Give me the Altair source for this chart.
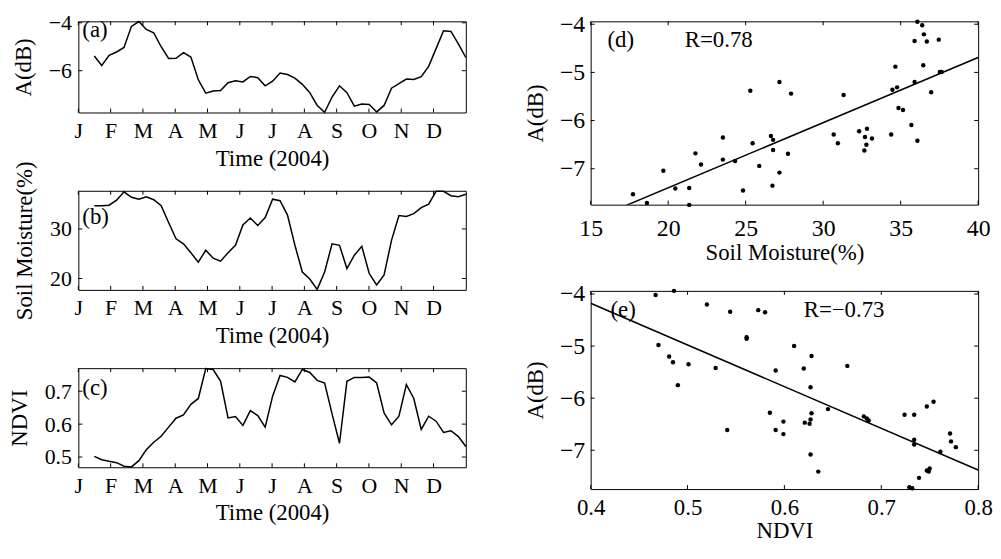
import altair as alt
import pandas as pd

# ---------------- data ----------------
days = [16, 23, 30, 37, 44, 51, 58, 65, 72, 79, 86, 93, 100, 107, 114, 121, 128,
        135, 142, 149, 156, 163, 170, 177, 184, 191, 198, 205, 212, 219, 226, 233,
        240, 247, 254, 261, 268, 275, 282, 289, 296, 303, 310, 317, 324, 331, 338,
        345, 352, 359, 366]

backscatter = [-5.39, -5.78, -5.36, -5.22, -5.03, -4.15, -3.95, -4.28, -4.42, -5.00,
               -5.49, -5.48, -5.25, -5.43, -6.38, -6.94, -6.85, -6.83, -6.50, -6.42,
               -6.47, -6.24, -6.29, -6.63, -6.44, -6.10, -6.16, -6.31, -6.57, -6.92,
               -7.45, -7.74, -7.10, -6.63, -6.92, -7.48, -7.39, -7.41, -7.72, -7.45,
               -6.73, -6.54, -6.35, -6.37, -6.25, -5.82, -5.08, -4.33, -4.36, -4.88,
               -5.45]

soil_moisture = [34.7, 34.7, 34.8, 35.8, 37.5, 36.4, 36.0, 36.5, 35.9, 34.7,
                 31.3, 28.0, 27.0, 25.2, 23.3, 25.7, 24.1, 23.5, 25.2, 26.7,
                 30.8, 32.2, 30.7, 32.3, 36.0, 35.7, 32.8, 26.7, 21.3, 19.9,
                 17.8, 21.3, 27.0, 26.7, 22.0, 24.7, 26.5, 21.0, 18.7, 20.7,
                 27.7, 32.7, 32.5, 33.1, 34.3, 35.0, 37.6, 37.6, 36.7, 36.5, 37.0]

ndvi = [0.502, 0.492, 0.487, 0.483, 0.472, 0.470, 0.489, 0.522, 0.545, 0.563,
        0.591, 0.618, 0.628, 0.660, 0.678, 0.769, 0.766, 0.730, 0.619, 0.623,
        0.596, 0.641, 0.626, 0.591, 0.685, 0.748, 0.742, 0.728, 0.766, 0.757,
        0.733, 0.725, 0.631, 0.542, 0.730, 0.742, 0.742, 0.743, 0.725, 0.634,
        0.598, 0.624, 0.720, 0.678, 0.584, 0.624, 0.609, 0.575, 0.580, 0.562, 0.532]

month_ticks = list(range(12))
month_letters = ["J", "F", "M", "A", "M", "J", "J", "A", "S", "O", "N", "D"]

sc_soil = [17.73, 18.63, 19.69, 20.46, 21.36, 21.36, 21.76, 22.12, 23.53, 23.53,
           24.32, 24.83, 25.30, 25.45, 25.88, 26.63, 26.77, 26.77, 26.73, 27.18,
           27.18, 27.73, 27.93, 30.68, 30.95, 31.32, 32.32, 32.66, 32.70, 32.83,
           32.79, 33.15, 34.39, 34.47, 34.66, 34.77, 34.86, 35.15, 35.69, 35.90,
           35.90, 36.08, 36.08, 36.39, 36.46, 36.50, 36.69, 36.97, 37.46, 37.53, 37.65]
sc_soil_A = [-7.53, -7.71, -7.04, -7.41, -7.40, -7.75, -6.68, -6.91, -6.35, -6.81,
             -6.84, -7.45, -5.38, -6.47, -6.94, -6.32, -6.40, -6.61, -7.35, -5.20,
             -7.08, -6.69, -5.44, -6.29, -6.47, -5.47, -6.22, -6.62, -6.34, -6.17,
             -6.50, -6.37, -6.29, -5.36, -4.88, -5.31, -5.74, -5.78, -6.09, -4.35,
             -5.20, -3.95, -6.42, -4.02, -4.85, -4.21, -4.36, -5.41, -4.32, -4.99, -4.99]

sc_ndvi = [0.467, 0.486, 0.470, 0.481, 0.485, 0.490, 0.501, 0.520, 0.529, 0.541,
           0.544, 0.561, 0.561, 0.573, 0.580, 0.585, 0.591, 0.591, 0.599, 0.599,
           0.610, 0.620, 0.621, 0.626, 0.627, 0.627, 0.627, 0.628, 0.628, 0.635,
           0.645, 0.665, 0.682, 0.685, 0.687, 0.724, 0.729, 0.732, 0.734, 0.734,
           0.734, 0.739, 0.747, 0.747, 0.749, 0.750, 0.754, 0.761, 0.771, 0.772, 0.777]
sc_ndvi_A = [-4.02, -3.94, -4.98, -5.20, -5.31, -5.75, -5.35, -4.20, -5.42, -6.61,
             -4.34, -4.86, -4.83, -4.31, -4.35, -6.28, -5.47, -6.61, -6.45, -6.69,
             -5.00, -5.43, -6.47, -6.49, -6.41, -7.08, -5.79, -5.19, -6.29, -7.41,
             -6.21, -5.38, -6.35, -6.39, -6.43, -6.32, -7.71, -7.73, -6.32, -6.80,
             -6.89, -7.53, -6.16, -7.39, -7.41, -7.35, -6.07, -7.03, -6.68, -6.83, -6.94]

a_ticks_line = [-6, -4]
sm_ticks = [20, 30]
ndvi_ticks = [0.5, 0.6, 0.7]
a_ticks_scatter = [-7, -6, -5, -4]
soil_x_ticks = [15, 20, 25, 30, 35, 40]
ndvi_x_ticks = [0.4, 0.5, 0.6, 0.7, 0.8]

panel_labels = ["(a)", "(b)", "(c)", "(d)", "(e)"]
r_labels = ["R=0.78", "R=\u22120.73"]

A_DOMAIN = [-7.745, -3.94]

# ---------------- style ----------------
FONT = "Liberation Serif"
W = 391
L = 4  # inward tick length


def tick_layers(xscale, xaxis, xticks, yscale, yaxis, yticks, H):
    xt = pd.DataFrame({"t": xticks})
    yt = pd.DataFrame({"t": yticks})
    bx = alt.Chart(xt).mark_rule(color="black", strokeWidth=1)
    by = alt.Chart(yt).mark_rule(color="black", strokeWidth=1)
    xe = alt.X("t:Q", scale=xscale, axis=xaxis)
    ye = alt.Y("t:Q", scale=yscale, axis=yaxis)
    return [
        bx.encode(x=xe, y=alt.value(0), y2=alt.value(L)),
        bx.encode(x=xe, y=alt.value(H - L), y2=alt.value(H)),
        by.encode(y=ye, x=alt.value(0), x2=alt.value(L)),
        by.encode(y=ye, x=alt.value(W - L), x2=alt.value(W)),
    ]


def text_layer(txt, x, y):
    return alt.Chart(pd.DataFrame({"s": [txt]})).mark_text(
        align="left", baseline="middle", font=FONT, fontSize=23, color="black"
    ).encode(text="s:N", x=alt.value(x), y=alt.value(y))


label_expr = "[" + ",".join("'%s'" % m for m in month_letters) + "][datum.value]"


def line_panel(values, ytitle, ydomain, yticks, yfmt, label, label_y, H):
    df = pd.DataFrame({"day": days, "v": values})
    xscale = alt.Scale(domain=[0, 12], nice=False, zero=False)
    yscale = alt.Scale(domain=ydomain, nice=False, zero=False)
    xaxis = alt.Axis(values=month_ticks, labelExpr=label_expr,
                     title="Time (2004)", labelPadding=8, titlePadding=6,
                     labelFontSize=22)
    yaxis = alt.Axis(values=yticks, format=yfmt, title=ytitle,
                     labelPadding=7, titlePadding=13, labelFontSize=22)
    line = alt.Chart(df).transform_calculate(
        month="(datum.day - 1) / 365 * 12"
    ).mark_line(color="black", strokeWidth=1.5).encode(
        x=alt.X("month:Q", scale=xscale, axis=xaxis),
        y=alt.Y("v:Q", scale=yscale, axis=yaxis),
    )
    layers = [line] + tick_layers(xscale, xaxis, month_ticks, yscale, yaxis, yticks, H) + [
        text_layer(label, 4, label_y)]
    return alt.layer(*layers).properties(width=W, height=H)


def scatter_panel(xv, yv, xtitle, xdomain, xticks, xfmt, label, label_x, r_txt, r_x,
                  text_y, H, lab_pad, title_pad, lab_fs):
    df = pd.DataFrame({"x": xv, "y": yv})
    xscale = alt.Scale(domain=xdomain, nice=False, zero=False)
    yscale = alt.Scale(domain=A_DOMAIN, nice=False, zero=False)
    xaxis = alt.Axis(values=xticks, format=xfmt, title=xtitle,
                     labelPadding=lab_pad, titlePadding=title_pad, labelFontSize=lab_fs)
    yaxis = alt.Axis(values=a_ticks_scatter, title="A(dB)",
                     labelPadding=6, titlePadding=12, labelFontSize=24)
    pts = alt.Chart(df).mark_circle(color="black", size=20, opacity=1).encode(
        x=alt.X("x:Q", scale=xscale, axis=xaxis),
        y=alt.Y("y:Q", scale=yscale, axis=yaxis),
    )
    fit = alt.Chart(df).transform_regression(
        "x", "y", extent=xdomain
    ).mark_line(color="black", strokeWidth=1.5, clip=True).encode(
        x=alt.X("x:Q", scale=xscale, axis=xaxis),
        y=alt.Y("y:Q", scale=yscale, axis=yaxis),
    )
    layers = [pts, fit] + tick_layers(xscale, xaxis, xticks, yscale, yaxis,
                                      a_ticks_scatter, H) + [
        text_layer(label, label_x, text_y), text_layer(r_txt, r_x, text_y)]
    return alt.layer(*layers).properties(width=W, height=H)


pa = line_panel(backscatter, "A(dB)", A_DOMAIN, a_ticks_line, "d", panel_labels[0], 9, 92)
pb = line_panel(soil_moisture, "Soil Moisture(%)", [17.7, 37.7], sm_ticks, "d",
                panel_labels[1], 27, 100)
pc = line_panel(ndvi, "NDVI", [0.469, 0.770], ndvi_ticks, ".1f", panel_labels[2], 20, 100)

pd_ = scatter_panel(sc_soil, sc_soil_A, "Soil Moisture(%)", [15, 40], soil_x_ticks, "d",
                    panel_labels[3], 17, r_labels[0], 95, 19, 185, 12, 1, 24)
pe = scatter_panel(sc_ndvi, sc_ndvi_A, "NDVI", [0.4, 0.8], ndvi_x_ticks, ".1f",
                   panel_labels[4], 20, r_labels[1], 215, 19, 200, 8, 0, 23)

left = alt.vconcat(pa, pb, pc, spacing=79, bounds="flush")
right = alt.vconcat(pd_, pe, spacing=87, bounds="flush")

chart = alt.hconcat(left, right, spacing=54).properties(
    padding={"left": 0, "top": 0, "right": 0, "bottom": 0},
    background="white",
).configure_view(
    stroke="black", strokeWidth=1
).configure_axis(
    labelFont=FONT, titleFont=FONT, titleFontSize=23, titleFontWeight="normal",
    labelColor="black", titleColor="black", ticks=False, domain=False, grid=False,
    labelFlush=False, labelOverlap=False,
)

chart.save("out.html", embed_options={"renderer": "svg", "actions": False})
